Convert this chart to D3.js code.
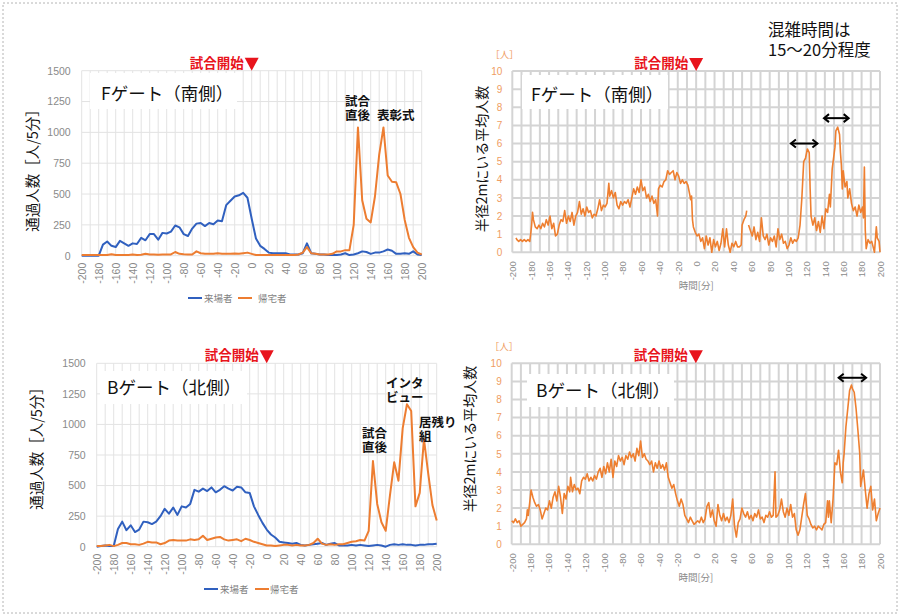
<!DOCTYPE html>
<html><head><meta charset="utf-8">
<script src="https://cdn.jsdelivr.net/npm/d3@7"></script>
<style>body{margin:0;background:#fff}svg{display:block}</style>
</head><body>
<svg id="c" width="900" height="616"></svg>
<script>
// ---------- data ----------
const times5 = [-200,-195,-190,-185,-180,-175,-170,-165,-160,-155,-150,-145,-140,-135,-130,-125,-120,-115,-110,-105,-100,-95,-90,-85,-80,-75,-70,-65,-60,-55,-50,-45,-40,-35,-30,-25,-20,-15,-10,-5,0,5,10,15,20,25,30,35,40,45,50,55,60,65,70,75,80,85,90,95,100,105,110,115,120,125,130,135,140,145,150,155,160,165,170,175,180,185,190,195,200];
// F gate (south) counts per 5 min
const fArrive = [0,0,0,0,0,90,115,80,70,120, 100,80,100,95,145,125,175,175,130,185, 180,195,245,230,175,160,220,260,265,240, 265,255,285,280,410,445,480,490,510,470, 300,140,80,55,25,20,20,20,20,10, 10,10,20,100,20,15,10,10,5,5, 5,10,20,5,10,20,35,30,15,25, 25,35,50,40,15,15,20,15,35,10, 5];
const fLeave = [5,5,5,5,5,5,5,12,5,5, 5,5,10,5,8,15,10,10,8,10, 10,10,30,15,12,10,10,35,20,15, 15,15,20,15,15,15,18,15,20,25, 15,5,5,5,5,5,5,5,5,5, 5,10,25,70,20,15,10,10,10,15, 35,35,45,45,250,1040,450,300,270,480, 820,1040,650,600,595,500,290,145,70,25, 10];
// B gate (north) counts per 5 min
const bArrive = [0,5,10,5,5,145,205,135,175,120, 140,205,200,185,205,250,310,270,320,260, 330,320,350,465,450,475,455,485,445,465, 495,475,460,490,485,445,440,330,260,195, 140,100,75,40,35,30,25,30,15,10, 15,20,25,30,15,25,30,10,10,10, 15,10,15,10,5,10,15,10,0,15, 20,15,20,15,15,10,15,15,20,20, 25];
const bLeave = [5,5,10,15,5,15,30,30,20,20, 15,25,40,35,35,20,30,50,55,50, 50,50,60,55,60,90,55,65,75,80, 60,50,55,60,45,65,55,40,30,20, 10,10,5,10,15,15,10,15,10,10, 15,30,65,25,15,20,15,20,20,30, 40,45,55,50,130,700,350,200,130,420, 690,540,970,1165,1110,330,440,880,600,340, 215];

// average people within 2 m radius
const fAvgT = [-196,-195,-193,-191,-189,-187,-185,-183,-181,-180,-179,-178,-177,-175,-173,-171,-169,-167,-165,-163,-161,-159,-157,-155,-153,-151,-149,-147,-145,-143,-141,-139,-137,-135,-133,-131,-129,-127,-125,-123,-121,-119,-117,-115,-113,-111,-109,-107,-105,-103,-101,-99,-97,-95,-94,-92,-90,-88,-86,-84,-82,-80,-78,-76,-74,-72,-70,-68,-66,-64,-62,-60,-58,-56,-54,-52,-50,-48,-46,-44,-42,-41,-39,-37,-35,-33,-31,-29,-27,-25,-23,-21,-19,-17,-15,-13,-11,-9,-7,-6,-5,-4,-3,-1,1,3,5,7,9,11,13,15,17,19,21,23,25,27,29,31,33,35,37,39,41,43,45,47,49,50,52,54,55,56,57,59,61,63,65,67,69,71,73,75,77,79,81,83,85,87,89,91,93,95,97,99,101,103,105,107,109,111,113,115,117,119,121,123,124,125,127,129,131,133,135,137,139,141,143,145,146,148,150,151,152,154,156,157,158,159,160,162,164,165,167,169,171,173,175,177,179,181,182,183,184,185,187,189,191,193,194,196,197,199,200];
const fAvgV = [0.8,0.7,0.6,0.7,0.6,0.7,0.6,0.7,0.6,1.0,1.5,2.2,1.8,1.4,1.3,1.5,1.3,1.6,1.4,1.8,1.5,2.0,1.3,1.6,0.9,1.0,1.5,1.8,1.7,2.3,1.6,2.0,1.7,2.2,1.5,2.0,2.2,2.8,2.1,2.4,2.0,2.5,2.2,2.3,1.9,2.1,2.0,2.4,2.9,2.3,2.6,2.5,2.7,3.8,3.1,3.4,3.0,3.3,2.6,2.4,2.8,2.6,2.8,2.7,2.9,2.5,3.0,3.5,3.2,3.6,3.3,4.0,3.4,3.6,3.0,3.2,2.8,3.1,2.7,2.9,2.0,3.5,3.7,3.6,3.9,4.0,4.5,4.3,4.4,4.5,4.0,4.4,4.2,3.8,4.0,3.8,3.9,3.7,3.2,2.9,3.1,1.8,1.4,1.1,0.9,1.0,0.6,0.8,0.2,0.9,0.4,0.8,0.0,0.7,0.3,0.6,0.1,0.5,1.3,0.3,1.3,0.4,0.0,0.5,0.3,0.6,0.3,0.3,0.4,1.5,1.8,2.0,2.3,null,1.5,1.2,0.9,1.4,0.7,1.1,0.6,1.9,0.9,0.7,1.0,0.4,0.8,0.6,0.9,0.3,1.3,0.7,1.0,0.5,0.6,0.2,0.4,0.8,0.5,0.7,0.6,0.8,1.5,3.0,5.0,5.2,5.7,5.5,3.5,2.0,1.5,1.9,1.2,1.7,1.1,2.0,1.3,2.4,2.2,3.2,2.5,4.6,5.4,5.8,6.7,6.9,6.5,5.5,4.8,3.5,4.5,3.6,3.9,3.0,3.5,2.7,2.3,2.5,2.0,2.6,2.2,2.5,1.9,4.7,1.2,0.2,0.7,0.5,0.6,0.2,0.0,1.4,0.8,0.6,0.0];
const bAvgT = [-200,-198,-196,-194,-192,-190,-188,-186,-184,-183,-182,-180,-179,-177,-175,-173,-171,-169,-167,-165,-163,-161,-159,-157,-155,-153,-151,-149,-147,-145,-143,-141,-139,-137,-136,-134,-132,-130,-128,-126,-124,-122,-120,-118,-116,-114,-112,-110,-108,-106,-104,-102,-100,-98,-96,-94,-92,-90,-88,-86,-84,-82,-80,-78,-76,-74,-72,-70,-68,-66,-64,-62,-60,-58,-56,-54,-52,-50,-48,-46,-44,-42,-40,-38,-36,-34,-32,-30,-28,-26,-24,-22,-20,-18,-16,-14,-12,-10,-8,-6,-4,-2,0,2,4,6,8,10,12,14,16,18,20,22,24,26,28,30,32,34,36,38,40,42,44,46,48,50,52,54,56,58,60,62,64,66,68,70,72,74,76,78,80,82,84,86,87,89,91,93,95,97,99,101,103,105,107,109,111,113,115,117,119,121,123,125,127,129,131,133,135,137,139,141,143,144,145,147,149,151,153,155,157,159,160,161,163,165,167,169,170,172,174,176,178,179,181,182,184,186,188,190,192,194,196,198,200];
const bAvgV = [1.3,1.2,1.4,1.2,1.3,1.0,1.1,1.2,1.4,1.9,1.6,2.5,3.0,2.6,2.3,2.1,2.2,1.9,1.4,1.7,2.0,1.9,2.4,2.0,2.6,2.9,2.4,3.2,2.6,1.7,2.8,2.5,3.2,2.9,3.7,2.9,3.3,3.0,3.1,2.8,3.5,3.7,3.6,3.9,3.5,3.7,3.5,3.8,3.6,4.0,4.2,3.7,4.3,3.9,4.5,4.0,4.7,3.7,4.6,4.3,4.9,4.6,4.8,4.4,4.9,4.7,5.1,4.8,5.0,4.6,5.3,4.9,5.7,4.8,5.0,4.7,4.6,4.4,4.6,4.0,4.5,4.2,4.6,4.2,4.4,4.1,4.5,3.7,3.4,3.1,3.3,2.8,2.4,2.1,2.5,2.2,1.6,1.4,1.2,1.5,1.3,1.1,1.2,1.3,1.2,1.5,1.2,1.4,2.1,2.3,1.5,1.9,1.3,1.0,2.2,1.6,1.3,1.7,1.3,1.5,1.2,1.6,2.5,1.0,0.4,1.2,1.4,2.0,1.7,1.5,1.8,1.4,1.6,1.3,1.7,1.5,1.9,1.4,1.5,1.2,1.6,1.5,1.8,1.5,1.6,4.0,1.5,1.6,1.9,2.5,1.8,1.5,2.0,1.6,2.2,1.5,1.7,0.8,0.5,0.8,1.5,2.2,2.8,1.6,1.4,1.1,0.9,1.0,0.8,1.0,0.9,0.8,1.1,1.2,2.4,1.5,2.4,1.2,2.5,4.5,4.4,5.2,4.0,3.4,4.5,5.0,6.5,7.5,8.5,8.8,8.6,8.4,7.5,6.3,5.0,3.2,3.8,4.1,3.0,2.0,2.8,3.2,1.9,2.5,1.3,1.7,2.0];

const countTicks = [0,250,500,750,1000,1250,1500];
const avgTicks = [0,1,2,3,4,5,6,7,8,9,10];
const timeTicks = [-200,-180,-160,-140,-120,-100,-80,-60,-40,-20,0,20,40,60,80,100,120,140,160,180,200];
const gridTimes = [-200,-190,-180,-170,-160,-150,-140,-130,-120,-110,-100,-90,-80,-70,-60,-50,-40,-30,-20,-10,0,10,20,30,40,50,60,70,80,90,100,110,120,130,140,150,160,170,180,190,200];
const seriesNames = ["来場者","帰宅者"];
const colors = {arrive:"#3060bf", leave:"#ED7D31", avg:"#EE7F30"};

// ---------- drawing ----------
const svg = d3.select("#c");
const JP = "'Noto Sans CJK JP','Noto Sans',sans-serif";
const NUM = "'Liberation Sans',Arial,sans-serif";
const plain = d => String(d);

svg.append("rect").attr("x",3).attr("y",3).attr("width",894).attr("height",610)
  .attr("fill","none").attr("stroke","#b4b4b4").attr("stroke-dasharray","2,2");

function startMark(g, x, yTop){
  const x0 = x(0);
  g.append("path").attr("d",`M${x0-7},${yTop-13}L${x0+7},${yTop-13}L${x0},${yTop}Z`).attr("fill","#e8141c");
  g.append("text").attr("x",x0-8).attr("y",yTop-3).attr("text-anchor","end")
    .attr("font-family",JP).attr("font-weight","bold").attr("font-size",13.5).attr("fill","#e8141c").text("試合開始");
}

function labelBox(g, bx, by, bw, bh, tx, ty, txt){
  g.append("rect").attr("x",bx).attr("y",by).attr("width",bw).attr("height",bh).attr("fill","#fff");
  g.append("text").attr("x",tx).attr("y",ty).attr("font-family",JP).attr("font-size",17.5).attr("fill","#111").text(txt);
}

function countPanel(cfg){
  const g = svg.append("g");
  const x = d3.scaleLinear().domain([-200,200]).range(cfg.xr);
  const y = d3.scaleLinear().domain([0,1500]).range(cfg.yr);
  g.selectAll(".gv").data(gridTimes).join("line").attr("x1",d=>x(d)).attr("x2",d=>x(d))
    .attr("y1",y(0)).attr("y2",y(1500)).attr("stroke","#e3e3e3").attr("stroke-width",1);
  g.selectAll(".gh").data(countTicks).join("line").attr("x1",x(-200)).attr("x2",x(200))
    .attr("y1",d=>y(d)).attr("y2",d=>y(d)).attr("stroke","#e3e3e3").attr("stroke-width",1);
  const ya = g.append("g").attr("transform",`translate(${x(-200)-11},0)`)
    .call(d3.axisLeft(y).tickValues(countTicks).tickFormat(plain).tickSize(0).tickPadding(0));
  ya.select(".domain").remove();
  ya.selectAll("text").attr("font-family",NUM).attr("font-size",10.5).attr("fill","#8a8a8a");
  const xa = g.append("g").attr("transform",`translate(0,${y(0)+7})`)
    .call(d3.axisBottom(x).tickValues(timeTicks).tickFormat(plain).tickSize(0).tickPadding(0));
  xa.select(".domain").remove();
  xa.selectAll("text").attr("font-family",NUM).attr("font-size",10.5).attr("fill","#8a8a8a")
    .attr("transform","rotate(-90)").attr("text-anchor","end").attr("dy","0.35em").attr("y",0).attr("x",0);
  g.append("text").attr("transform",`translate(${cfg.titleX},${cfg.titleY}) rotate(-90)`)
    .attr("text-anchor","middle").attr("dominant-baseline","central")
    .attr("font-family",JP).attr("font-size",14.5).attr("fill","#111").text("通過人数［人/5分］");
  labelBox(g, cfg.box[0], cfg.box[1], cfg.box[2], cfg.box[3], cfg.box[4], cfg.box[5], cfg.name);
  startMark(g, x, y(1500));
  const line = d3.line().x((d,i)=>x(times5[i])).y(d=>y(d));
  g.append("path").datum(cfg.arrive).attr("d",line).attr("fill","none").attr("stroke",colors.arrive).attr("stroke-width",2).attr("stroke-linejoin","round");
  g.append("path").datum(cfg.leave).attr("d",line).attr("fill","none").attr("stroke",colors.leave).attr("stroke-width",2).attr("stroke-linejoin","round");
  cfg.notes.forEach(n=>{
    n.lines.forEach((s,i)=>g.append("text").attr("x",n.x).attr("y",n.y+i*13.5)
      .attr("font-family",JP).attr("font-weight","bold").attr("font-size",12.5).attr("fill","#111").text(s));
  });
  const L = cfg.legend;
  g.append("line").attr("x1",L[0]).attr("x2",L[0]+14).attr("y1",L[4]).attr("y2",L[4]).attr("stroke",colors.arrive).attr("stroke-width",2);
  g.append("text").attr("x",L[1]).attr("y",L[4]+3.5).attr("font-family",JP).attr("font-size",9.5).attr("fill","#7f7f7f").text(seriesNames[0]);
  g.append("line").attr("x1",L[2]).attr("x2",L[2]+14).attr("y1",L[4]).attr("y2",L[4]).attr("stroke",colors.leave).attr("stroke-width",2);
  g.append("text").attr("x",L[3]).attr("y",L[4]+3.5).attr("font-family",JP).attr("font-size",9.5).attr("fill","#7f7f7f").text(seriesNames[1]);
}

function avgPanel(cfg){
  const g = svg.append("g");
  const x = d3.scaleLinear().domain([-200,200]).range(cfg.xr);
  const y = d3.scaleLinear().domain([0,10]).range(cfg.yr);
  g.selectAll(".gv").data(gridTimes).join("line").attr("x1",d=>x(d)).attr("x2",d=>x(d))
    .attr("y1",y(0)).attr("y2",y(10)).attr("stroke","#d4d4d4").attr("stroke-width",2);
  g.selectAll(".gh").data(avgTicks).join("line").attr("x1",x(-200)).attr("x2",x(200))
    .attr("y1",d=>y(d)).attr("y2",d=>y(d)).attr("stroke","#d4d4d4").attr("stroke-width",2);
  const ya = g.append("g").attr("transform",`translate(${x(-200)-10},0)`)
    .call(d3.axisLeft(y).tickValues(avgTicks).tickFormat(plain).tickSize(0).tickPadding(0));
  ya.select(".domain").remove();
  ya.selectAll("text").attr("font-family",NUM).attr("font-size",10).attr("fill","#ef9d63");
  g.append("text").attr("x",x(-200)-22).attr("y",y(10)-13).attr("font-family",JP).attr("font-size",9.5).attr("fill","#ef9d63").text("［人］");
  const xa = g.append("g").attr("transform",`translate(0,${y(0)+9})`)
    .call(d3.axisBottom(x).tickValues(timeTicks).tickFormat(plain).tickSize(0).tickPadding(0));
  xa.select(".domain").remove();
  xa.selectAll("text").attr("font-family",NUM).attr("font-size",9.5).attr("fill","#8a8a8a")
    .attr("transform","rotate(-90)").attr("text-anchor","end").attr("dy","0.35em").attr("y",0).attr("x",0);
  g.append("text").attr("x",x(0)).attr("y",y(0)+37).attr("text-anchor","middle")
    .attr("font-family",JP).attr("font-size",9.5).attr("fill","#8a8a8a").text("時間[分]");
  g.append("text").attr("transform",`translate(${cfg.titleX},${cfg.titleY}) rotate(-90)`)
    .attr("text-anchor","middle").attr("dominant-baseline","central")
    .attr("font-family",JP).attr("font-size",14).attr("fill","#111").text("半径2mにいる平均人数");
  labelBox(g, cfg.box[0], cfg.box[1], cfg.box[2], cfg.box[3], cfg.box[4], cfg.box[5], cfg.name);
  startMark(g, x, y(10));
  const pts = cfg.t.map((t,i)=>({t, v:cfg.v[i]}));
  const line = d3.line().defined(d=>d.v!=null).x(d=>x(d.t)).y(d=>y(d.v));
  g.append("path").datum(pts).attr("d",line).attr("fill","none").attr("stroke",colors.avg).attr("stroke-width",1.6).attr("stroke-linejoin","round");
  cfg.arrows.forEach(a=>{
    const x0=x(a.t0), x1=x(a.t1), yy=y(a.v);
    g.append("line").attr("x1",x0+1).attr("x2",x1-1).attr("y1",yy).attr("y2",yy).attr("stroke","#000").attr("stroke-width",2);
    g.append("path").attr("d",`M${x0+6},${yy-4}L${x0+1},${yy}L${x0+6},${yy+4}M${x1-6},${yy-4}L${x1-1},${yy}L${x1-6},${yy+4}`)
      .attr("fill","none").attr("stroke","#000").attr("stroke-width",2);
  });
}

countPanel({xr:[81.7,421.7], yr:[255.7,70.7], titleX:31, titleY:167, name:"Fゲート（南側）",
  box:[90,73,147,36,101,100], arrive:fArrive, leave:fLeave,
  notes:[{x:345,y:106,lines:["試合","直後"]},{x:377,y:119.5,lines:["表彰式"]}],
  legend:[188,204,238,258,298]});
countPanel({xr:[96.7,436.7], yr:[546.7,363.3], titleX:35, titleY:445, name:"Bゲート（北側）",
  box:[100,371,147,33,107,394], arrive:bArrive, leave:bLeave,
  notes:[{x:386,y:388,lines:["インタ","ビュー"]},{x:362,y:438,lines:["試合","直後"]},{x:419,y:427,lines:["居残り","組"]}],
  legend:[204,220,255,270,589]});
avgPanel({xr:[512.3,880], yr:[252.3,71], titleX:481, titleY:159, name:"Fゲート（南側）",
  box:[522,75,146,34,531,101], t:fAvgT, v:fAvgV,
  arrows:[{t0:102,t1:133,v:6.0},{t0:138,t1:167,v:7.4}]});
avgPanel({xr:[511.7,880], yr:[544.3,363.3], titleX:469, titleY:439, name:"Bゲート（北側）",
  box:[527,374,147,33,536,397], t:bAvgT, v:bAvgV,
  arrows:[{t0:154,t1:186,v:9.2}]});

["混雑時間は","15～20分程度"].forEach((s,i)=>svg.append("text").attr("x",768).attr("y",36+i*19.5)
  .attr("font-family",JP).attr("font-size",16.5).attr("fill","#111").text(s));
</script>
</body></html>
